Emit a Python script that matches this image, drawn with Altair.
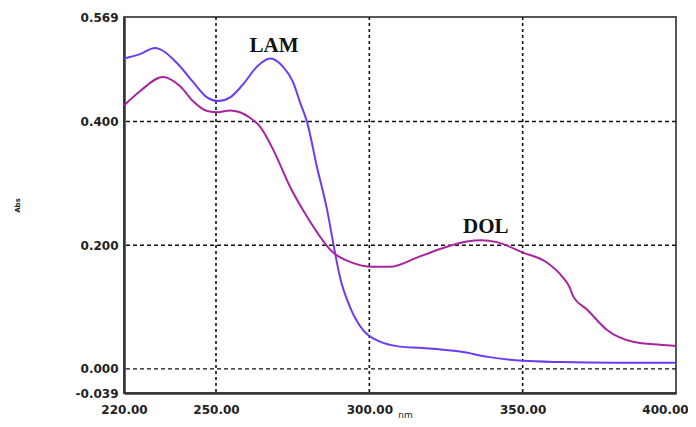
import altair as alt
import pandas as pd

# LAM spectrum (wavelength nm, absorbance)
lam_nm = [220.0, 225.2, 230.1, 231.7, 238.3, 242.5, 247.1, 250.7, 254.6, 258.8, 263.4,
          267.6, 271.8, 275.1, 277.4, 279.7, 282.9, 286.2, 288.8, 290.4, 293.7, 297.9,
          303.5, 310.0, 316.5, 329.6, 339.3, 350.1, 362.2, 380.0, 400.0]
lam_abs = [0.502, 0.509, 0.519, 0.517, 0.489, 0.464, 0.439, 0.433, 0.439, 0.460, 0.489,
           0.502, 0.489, 0.464, 0.431, 0.399, 0.327, 0.258, 0.188, 0.149, 0.100, 0.063,
           0.044, 0.036, 0.034, 0.028, 0.019, 0.013, 0.011, 0.010, 0.010]

# DOL spectrum
dol_nm = [220.0, 225.2, 232.7, 238.3, 242.5, 247.1, 250.7, 254.6, 257.8, 261.1, 264.3,
          268.6, 274.1, 279.7, 288.2, 293.7, 301.2, 306.7, 316.5, 326.3, 331.8, 336.5,
          341.6, 350.1, 357.9, 363.1, 365.4, 366.4, 371.0, 377.5, 386.0, 394.8, 400.0]
dol_abs = [0.426, 0.449, 0.472, 0.457, 0.433, 0.417, 0.415, 0.418, 0.415, 0.406, 0.392,
           0.355, 0.295, 0.246, 0.188, 0.173, 0.165, 0.165, 0.182, 0.199, 0.206, 0.208,
           0.205, 0.188, 0.172, 0.148, 0.131, 0.118, 0.096, 0.063, 0.044, 0.039, 0.037]

series_names = ["LAM", "DOL"]
series_colors = ["#6a3cf6", "#a8259f"]

x_ticks = [220, 250, 300, 350, 400]
y_ticks = [-0.039, 0.0, 0.2, 0.4, 0.569]
grid_x = [250, 300, 350]
grid_y = [0.0, 0.2, 0.4]

label_text = ["LAM", "DOL"]
label_nm = [268.9, 338.0]
label_abs = [0.522, 0.230]

rows = [{"nm": a, "abs": b, "series": "LAM"} for a, b in zip(lam_nm, lam_abs)]
rows += [{"nm": a, "abs": b, "series": "DOL"} for a, b in zip(dol_nm, dol_abs)]
df = pd.DataFrame(rows)

xscale = alt.Scale(domain=[220, 400], nice=False, zero=False)
yscale = alt.Scale(domain=[-0.039, 0.569], nice=False, zero=False)

font = "DejaVu Sans"

xaxis = alt.Axis(values=x_ticks, format=".2f", title="nm", grid=False, ticks=False,
                 labelFont=font, labelFontSize=12, labelFontWeight="bold", labelColor="#222",
                 labelPadding=11, domainColor="#333", domainWidth=2.5,
                 labelOffset={"condition": {"test": "datum.value == 400", "value": -11},
                              "value": 0},
                 titleFont=font, titleFontSize=9, titleFontWeight="normal", titleColor="#222",
                 titleX=281, titleY=21, titleBaseline="middle", labelFlush=False)
yaxis = alt.Axis(values=y_ticks, title="Abs", grid=False, ticks=False,
                 labelExpr="replace(format(datum.value, '.3f'), '\u2212', '-')",
                 labelFont=font, labelFontSize=12, labelFontWeight="bold", labelColor="#222",
                 labelPadding=6, domainColor="#333", domainWidth=2.5,
                 titleFont=font, titleFontSize=7, titleFontWeight="bold", titleColor="#222",
                 titleX=-107, titleY=188, titleAngle=-90, titleBaseline="middle",
                 labelFlush=False)

gx = alt.Chart(pd.DataFrame({"nm": grid_x})).mark_rule(
    color="#111", strokeDash=[3, 3], strokeWidth=1.6
).encode(x=alt.X("nm:Q", scale=xscale, axis=xaxis))

gy = alt.Chart(pd.DataFrame({"abs": grid_y})).mark_rule(
    color="#111", strokeDash=[4, 3], strokeWidth=1.4
).encode(y=alt.Y("abs:Q", scale=yscale, axis=yaxis))

lines = alt.Chart(df).mark_line(strokeWidth=2, interpolate="monotone").encode(
    x=alt.X("nm:Q", scale=xscale, axis=xaxis),
    y=alt.Y("abs:Q", scale=yscale, axis=yaxis),
    color=alt.Color("series:N", scale=alt.Scale(domain=series_names, range=series_colors),
                    legend=None),
    detail="series:N",
)

labels = alt.Chart(pd.DataFrame({"t": label_text, "nm": label_nm, "abs": label_abs})).mark_text(
    font="Liberation Serif", fontSize=21, fontWeight="bold", color="#111",
    align="center", baseline="middle"
).encode(
    x=alt.X("nm:Q", scale=xscale, axis=xaxis),
    y=alt.Y("abs:Q", scale=yscale, axis=yaxis),
    text="t:N",
)

chart = alt.layer(gx, gy, lines, labels).properties(
    width=552, height=376,
    autosize=alt.AutoSizeParams(type="none"),
    padding={"left": 116, "top": 9, "right": 12, "bottom": 26},
    background="white",
).configure_view(stroke="#555", strokeWidth=2)

chart.save("out.html", embed_options={"renderer": "svg", "actions": False})
